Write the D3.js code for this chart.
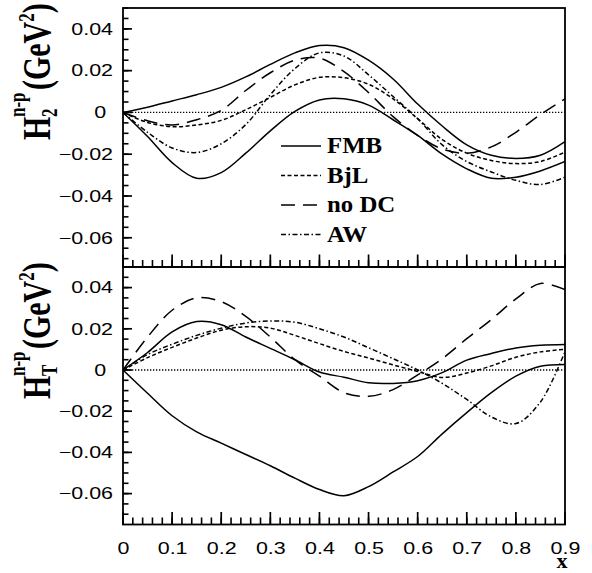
<!DOCTYPE html>
<html><head><meta charset="utf-8">
<script src="https://cdn.jsdelivr.net/npm/d3@7/dist/d3.min.js"></script>
<style>body{margin:0;background:#fff}</style>
</head><body>
<svg id="c" width="592" height="573"></svg>
<script>
// ---------- data ----------
const xs = [0, 0.05, 0.1, 0.15, 0.2, 0.25, 0.3, 0.35, 0.4, 0.45, 0.5, 0.55, 0.6, 0.65, 0.7, 0.75, 0.8, 0.85, 0.9];

// top panel: H2 n-p
const h2FMBa = [0, 0.0025, 0.0055, 0.0085, 0.012, 0.017, 0.023, 0.0285, 0.032, 0.031, 0.025, 0.016, 0.004, -0.0065, -0.0155, -0.0205, -0.022, -0.0205, -0.014];
const h2FMBb = [0, -0.0115, -0.024, -0.0315, -0.0288, -0.0195, -0.0088, 0.0005, 0.006, 0.0065, 0.0035, -0.0035, -0.011, -0.020, -0.027, -0.0315, -0.031, -0.028, -0.0235];
const h2BjL  = [0, -0.0048, -0.0068, -0.006, -0.0038, 0.0013, 0.0072, 0.0132, 0.0168, 0.0166, 0.0135, 0.0065, -0.003, -0.013, -0.0195, -0.023, -0.0245, -0.0235, -0.019];
const h2NoDC = [0, -0.004, -0.006, -0.0035, 0.001, 0.0105, 0.019, 0.025, 0.026, 0.0195, 0.0095, -0.002, -0.011, -0.0175, -0.0195, -0.0165, -0.0095, -0.001, 0.0065];
const h2AW   = [0, -0.0095, -0.017, -0.0192, -0.015, -0.0058, 0.0085, 0.021, 0.0285, 0.027, 0.018, 0.0076, -0.003, -0.0155, -0.0235, -0.0285, -0.0325, -0.0345, -0.031];

// bottom panel: HT n-p
const hTFMBa = [0, 0.0085, 0.0185, 0.0235, 0.022, 0.016, 0.0105, 0.005, -0.001, -0.0035, -0.0062, -0.0065, -0.0052, -0.0013, 0.0048, 0.008, 0.0107, 0.012, 0.0124];
const hTFMBb = [0, -0.0113, -0.0222, -0.030, -0.0355, -0.041, -0.0465, -0.0525, -0.058, -0.061, -0.0566, -0.0495, -0.042, -0.031, -0.0207, -0.011, -0.003, 0.0018, 0.0027];
const hTBjL  = [0, 0.006, 0.011, 0.0155, 0.0193, 0.021, 0.0203, 0.0168, 0.0128, 0.009, 0.0058, 0.0025, -0.0007, -0.0036, -0.0015, 0.002, 0.0062, 0.0088, 0.010];
const hTNoDC = [0, 0.016, 0.029, 0.035, 0.0332, 0.026, 0.016, 0.005, -0.003, -0.011, -0.0128, -0.0095, -0.0024, 0.0055, 0.0152, 0.0245, 0.0345, 0.042, 0.039];
const hTAW   = [0, 0.0075, 0.0125, 0.0168, 0.0203, 0.0228, 0.0238, 0.0232, 0.020, 0.016, 0.0108, 0.0055, 0, -0.0065, -0.0143, -0.0228, -0.026, -0.0155, 0.009];

const seriesNames = ["FMB", "BjL", "no DC", "AW"];
const xMajor = [0, 0.1, 0.2, 0.3, 0.4, 0.5, 0.6, 0.7, 0.8, 0.9];
const xTickLabels = ["0", "0.1", "0.2", "0.3", "0.4", "0.5", "0.6", "0.7", "0.8", "0.9"];
const yMajor = [-0.06, -0.04, -0.02, 0, 0.02, 0.04];
const yTickLabels = ["\u22120.06", "\u22120.04", "\u22120.02", "0", "0.02", "0.04"];

// ---------- styles ----------
const dashes = {"FMB": null, "BjL": "4,2.5", "no DC": "14,8", "AW": "5,2.5,1.5,2.5"};
const svg = d3.select("#c");
const L = 123, R = 565;
const x = d3.scaleLinear().domain([0, 0.9]).range([L, R]);

const panels = [
  {top: 8, bottom: 267, dom: [-0.074, 0.05], sub: "2", labBase: 140,
   series: [["FMB", h2FMBa], ["FMB", h2FMBb], ["BjL", h2BjL], ["no DC", h2NoDC], ["AW", h2AW]], xlabels: false},
  {top: 267, bottom: 524.5, dom: [-0.075, 0.05], sub: "T", labBase: 399,
   series: [["FMB", hTFMBa], ["FMB", hTFMBb], ["BjL", hTBjL], ["no DC", hTNoDC], ["AW", hTAW]], xlabels: true}
];

const sansFont = "'Liberation Sans', Arial, Helvetica, sans-serif";
const serifFont = "'Liberation Serif', 'Times New Roman', serif";

// frame
svg.append("rect").attr("x", L).attr("y", 8).attr("width", R - L).attr("height", 524.5 - 8)
  .attr("fill", "none").attr("stroke", "#000").attr("stroke-width", 1.8);
svg.append("line").attr("x1", L).attr("x2", R).attr("y1", 267).attr("y2", 267)
  .attr("stroke", "#000").attr("stroke-width", 1.8);

panels.forEach(p => {
  const y = d3.scaleLinear().domain(p.dom).range([p.bottom, p.top]);

  // tick marks (inside), from the scales
  const yMinor = d3.range(-0.07, 0.0501, 0.005).map(v => +v.toFixed(3)).filter(v => v >= p.dom[0] && v <= p.dom[1]);
  const xMinor = d3.range(0, 0.901, 0.02).map(v => +v.toFixed(2));
  const tg = svg.append("g");
  yMinor.forEach(v => tg.append("line").attr("x1", L).attr("x2", L + 5.5).attr("y1", y(v)).attr("y2", y(v))
    .attr("stroke", "#000").attr("stroke-width", 1.6));
  yMajor.forEach(v => tg.append("line").attr("x1", L).attr("x2", L + 9).attr("y1", y(v)).attr("y2", y(v))
    .attr("stroke", "#000").attr("stroke-width", 1.7));
  xMinor.forEach(v => tg.append("line").attr("x1", x(v)).attr("x2", x(v)).attr("y1", p.bottom).attr("y2", p.bottom - 7)
    .attr("stroke", "#000").attr("stroke-width", 1.6));
  xMajor.forEach(v => tg.append("line").attr("x1", x(v)).attr("x2", x(v)).attr("y1", p.bottom).attr("y2", p.bottom - 12.5)
    .attr("stroke", "#000").attr("stroke-width", 1.7));

  const g = svg.append("g");
  const clipId = "clip" + p.sub;
  svg.append("clipPath").attr("id", clipId).append("rect")
    .attr("x", L).attr("y", p.top).attr("width", R - L).attr("height", p.bottom - p.top);

  // zero line
  g.append("line").attr("x1", L).attr("x2", R).attr("y1", y(0)).attr("y2", y(0))
    .attr("stroke", "#000").attr("stroke-width", 1.3).attr("stroke-dasharray", "1.3,1.7");

  // curves
  const line = d3.line().x((d, i) => x(xs[i])).y(d => y(d)).curve(d3.curveCatmullRom.alpha(0.5));
  p.series.forEach(([name, vals]) => {
    g.append("path").attr("d", line(vals)).attr("fill", "none").attr("stroke", "#000")
      .attr("stroke-width", 1.5).attr("stroke-dasharray", dashes[name])
      .attr("clip-path", `url(#${clipId})`);
  });

  // y labels via axis
  const ya = svg.append("g").attr("transform", `translate(${L},0)`)
    .call(d3.axisLeft(y).tickValues(yMajor).tickSize(0).tickPadding(10)
      .tickFormat(d => yTickLabels[yMajor.indexOf(d)]));
  ya.select(".domain").remove();
  ya.selectAll(".tick line").remove();
  ya.selectAll("text").attr("font-family", sansFont).attr("font-size", 16.5).attr("fill", "#000")
    .attr("x", d => d === 0 ? -13 : -7.7).attr("transform", "scale(1.3,1)");

  if (p.xlabels) {
    const xa = svg.append("g").attr("transform", `translate(0,${p.bottom})`)
      .call(d3.axisBottom(x).tickValues(xMajor).tickSize(0).tickPadding(17.5)
        .tickFormat(d => xTickLabels[xMajor.indexOf(d)]));
    xa.select(".domain").remove();
    xa.selectAll(".tick line").remove();
    xa.selectAll("text").attr("font-family", sansFont).attr("font-size", 16.5).attr("fill", "#000")
      .attr("transform", "scale(1.3,1)");
  }

  // y axis title
  const t = svg.append("g").attr("transform", `translate(50,${p.labBase}) rotate(-90) scale(1,1.3)`)
    .attr("font-family", serifFont).attr("font-weight", "bold").attr("fill", "#000");
  t.append("text").attr("x", 0).attr("y", 0).attr("font-size", 30).text("H");
  t.append("text").attr("x", 23).attr("y", 5).attr("font-size", 17).text(p.sub);
  t.append("text").attr("x", 23).attr("y", -19).attr("font-size", 17).text("n-p");
  const gt = t.append("text").attr("x", 50).attr("y", 0).attr("font-size", 30);
  gt.append("tspan").text("(GeV");
  gt.append("tspan").attr("font-size", 17).attr("dy", -12).text("2");
  gt.append("tspan").attr("dy", 12).text(")");
});

// legend
const legY = d3.scalePoint().domain(seriesNames).range([146, 234.5]);
const leg = svg.append("g");
seriesNames.forEach(n => {
  leg.append("line").attr("x1", 281).attr("x2", 321).attr("y1", legY(n)).attr("y2", legY(n))
    .attr("stroke", "#000").attr("stroke-width", 1.5).attr("stroke-dasharray", dashes[n]);
  leg.append("text").attr("x", 327).attr("y", legY(n) + 7.5)
    .attr("font-family", serifFont).attr("font-weight", "bold").attr("font-size", 23)
    .attr("transform", `translate(${327 * (1 - 1.08)},0) scale(1.08,1)`)
    .text(n);
});

// x axis title
svg.append("text").attr("x", 562).attr("y", 568).attr("text-anchor", "middle")
  .attr("font-family", serifFont).attr("font-weight", "bold").attr("font-size", 22).text("x");
</script>
</body></html>
